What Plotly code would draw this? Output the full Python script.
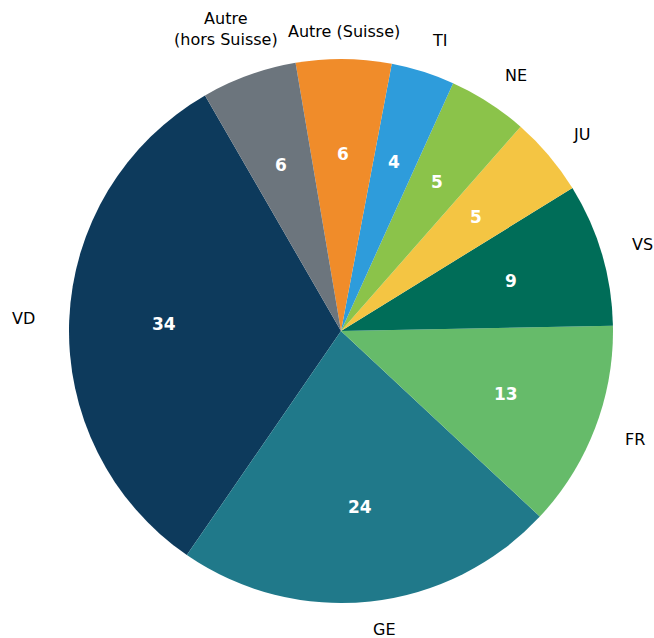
import math
import plotly.graph_objects as go

labels = ["VD", "GE", "FR", "VS", "JU", "NE", "TI", "Autre (Suisse)", "Autre<br>(hors Suisse)"]
values = [34, 24, 13, 9, 5, 5, 4, 6, 6]
colors = ["#0d3a5c", "#20798a", "#66bb6a", "#006d58", "#f4c543", "#8bc34a",
          "#2e9cdb", "#f08c2a", "#6c757d"]

START_DEG = 120.0      # start angle of first slice (math convention, counterclockwise)
LABEL_DIST = 1.12
VALUE_DIST = 0.65
label_adjust = {"Autre (Suisse)": ("center", 0, -5),
                "Autre<br>(hors Suisse)": ("center", -12, 15)}

total = sum(values)
# plotly (counterclockwise): rotation marks the far edge of the first slice
first_end = START_DEG + values[0] * 360 / total
rotation = 90 - first_end

fig = go.Figure(go.Pie(
    labels=labels, values=values, sort=False, direction="counterclockwise",
    rotation=rotation, marker=dict(colors=colors, line=dict(width=0)),
    textinfo="none", hoverinfo="skip", showlegend=False,
    domain=dict(x=[0, 1], y=[0, 1]),
))

cum = 0
annotations = []
for lab, v in zip(labels, values):
    mid = math.radians(START_DEG + (cum + v / 2) * 360 / total)
    cum += v
    c, s = math.cos(mid), math.sin(mid)
    if c > 0:
        anchor, dx, dy = "left", -3, 0
    else:
        anchor, dx, dy = "right", 0, 0
    if s < -0.9:
        dy = 4
    if lab in label_adjust:
        anchor, dx, dy = label_adjust[lab]
    annotations.append(dict(
        x=0.5 + 0.5 * LABEL_DIST * c, y=0.5 + 0.5 * LABEL_DIST * s,
        xref="paper", yref="paper", text=lab, showarrow=False,
        xanchor=anchor, yanchor="middle", xshift=dx, yshift=dy, align="center",
        font=dict(family="DejaVu Sans", size=16, color="#000000")))
    annotations.append(dict(
        x=0.5 + 0.5 * VALUE_DIST * c, y=0.5 + 0.5 * VALUE_DIST * s,
        xref="paper", yref="paper", text="<b>%d</b>" % v, showarrow=False,
        xanchor="center", yanchor="middle",
        font=dict(family="DejaVu Sans", size=17, color="#ffffff")))

fig.update_layout(
    width=654, height=638,
    margin=dict(l=69, r=41, t=59, b=35),
    paper_bgcolor="white", plot_bgcolor="white",
    annotations=annotations,
)

fig.write_html(
    "out.html",
    config={"displayModeBar": False},
    post_script="document.body.style.margin='0';document.body.style.overflow='hidden';",
)
